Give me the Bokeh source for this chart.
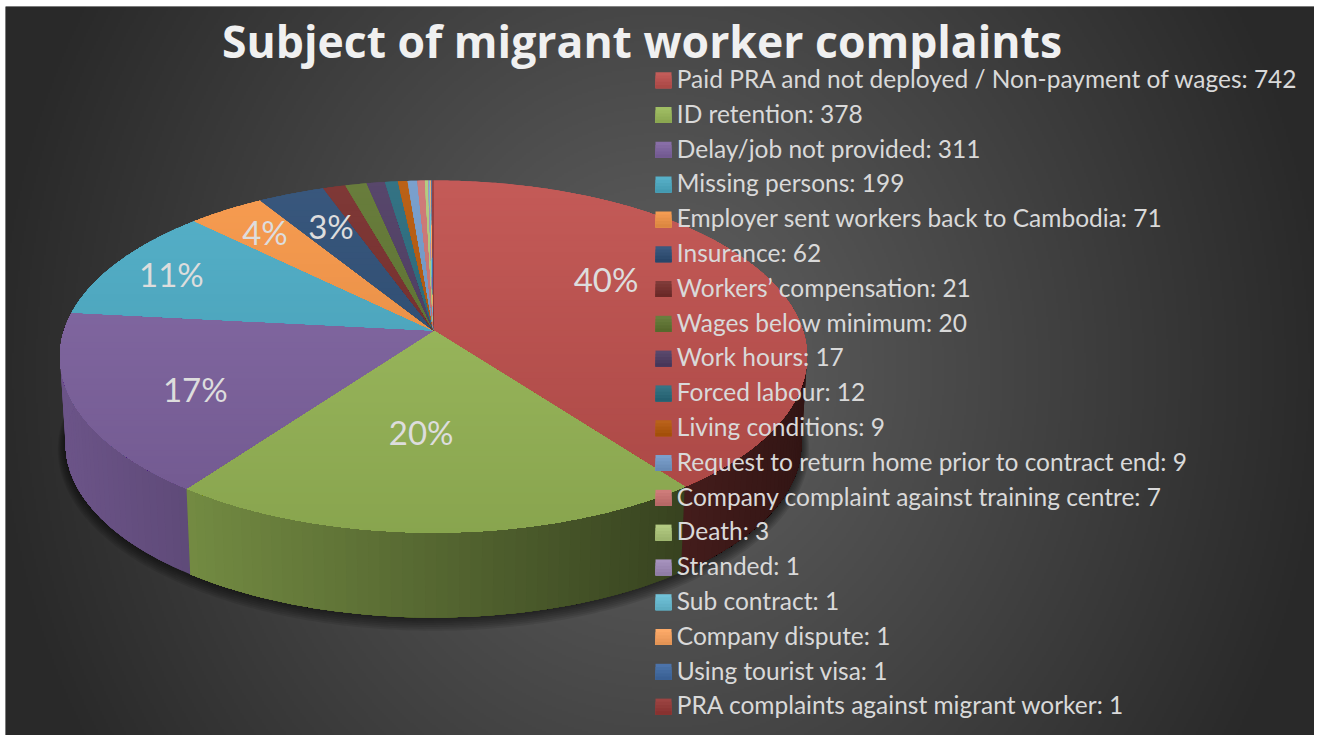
import math
import numpy as np
from bokeh.plotting import figure
from bokeh.core.properties import value
from bokeh.embed import file_html
from bokeh.resources import INLINE

# ---- data ----
categories = ["Paid PRA and not deployed / Non-payment of wages", "ID retention", "Delay/job not provided",
              "Missing persons", "Employer sent workers back to Cambodia", "Insurance", "Workers\u2019 compensation",
              "Wages below minimum", "Work hours", "Forced labour", "Living conditions",
              "Request to return home prior to contract end", "Company complaint against training centre",
              "Death", "Stranded", "Sub contract", "Company dispute", "Using tourist visa",
              "PRA complaints against migrant worker"]
counts = [742, 378, 311, 199, 71, 62, 21, 20, 17, 12, 9, 9, 7, 3, 1, 1, 1, 1, 1]
colors = ["#C0504D", "#9BBB59", "#8064A2", "#4BACC6", "#F79646", "#2C4D75", "#772C2A", "#5F7530", "#4D3B62",
          "#276A7C", "#B65708", "#729ACA", "#CD7371", "#AFC97A", "#A18BBA", "#67C0D8", "#FFA55E", "#3F6AA5", "#963634"]
title_text = "Subject of migrant worker complaints"
# pixel nudges of the six percent labels from their slice's mid-angle position
label_nudge = [(-32, -20), (-14, -12), (-28, 15), (-69, -14), (-39, -23), (-13, -18)]

# ---- geometry of the tilted pie ----
CX, CY, R, H, K = 433.0, 330.0, 369.4, 172.2, 0.1477
BOTTOM_CY, BOTTOM_S = 418.0, 0.985
TOP, BOTTOM = 180.0, 532.0
LEFT, RIGHT = 60.0, 807.0


def top_pt(theta, r=1.0):
    u, v = r * math.sin(theta), r * math.cos(theta)
    d = 1 + K * v
    return CX + R * u / d, CY - H * v / d


def bot_pt(theta, grow=0.0, dy=0.0):
    u, v = math.sin(theta), math.cos(theta)
    d = 1 + K * v
    return (CX + (BOTTOM_S * R + grow) * u / d, BOTTOM_CY + dy - (BOTTOM_S * H + grow) * v / d)


def rgb(c):
    return tuple(int(c[i:i + 2], 16) for i in (1, 3, 5))


def to_hex(c):
    return "#%02x%02x%02x" % tuple(max(0, min(255, int(round(x)))) for x in c)


def gradient(base, t, mix=0.06, dark=0.88):
    """vertical shine: t=0 lighter, t=1 darker"""
    b = rgb(base)
    a = [x + (255 - x) * mix for x in b]
    e = [x * dark for x in b]
    return to_hex([a[i] + (e[i] - a[i]) * t for i in range(3)])


def clip(poly, y0, y1):
    def cut(pts, keep, yc):
        out = []
        for i, p in enumerate(pts):
            q = pts[(i + 1) % len(pts)]
            kp, kq = keep(p[1]), keep(q[1])
            if kp:
                out.append(p)
            if kp != kq:
                f = (yc - p[1]) / (q[1] - p[1])
                out.append((p[0] + (q[0] - p[0]) * f, yc))
        return out
    pts = cut(poly, lambda y: y >= y0, y0)
    if pts:
        pts = cut(pts, lambda y: y <= y1, y1)
    return pts


total = sum(counts)
edges = np.cumsum([0] + counts) / total * 2 * math.pi

W, H_PAGE = 1309, 729
X0, Y0 = 5, 6
p = figure(width=W, height=H_PAGE, x_range=(X0, X0 + W), y_range=(Y0 + H_PAGE, Y0),
           output_backend="svg", toolbar_location=None, min_border=0, margin=(Y0, 0, 0, X0),
           background_fill_color="#333333", border_fill_color="white", outline_line_color=None)
p.axis.visible = False
p.grid.visible = False

# backdrop: radial gradient
ny, nx = H_PAGE // 2, W // 2
yy, xx = np.mgrid[0:ny, 0:nx]
px = X0 + (xx + .5) * 2
py = Y0 + (yy + .5) * 2
d = np.sqrt(((px - 660) / 660) ** 2 + (0.5 * (py - 370) / 370) ** 2)
g = np.clip(98 - 56 * d, 41, 98).astype(np.uint32)
img = (255 << 24) | (g << 16) | (g << 8) | g
p.image_rgba(image=[img.astype(np.uint32)], x=X0, y=Y0, dw=W, dh=H_PAGE)

# soft shadow under the pie
steps = np.linspace(0, 2 * math.pi, 361)
for i in range(7, 0, -1):
    pts = [bot_pt(t, grow=i * 1.1, dy=i * 0.6) for t in steps]
    p.patch([a for a, _ in pts], [b for _, b in pts], fill_color="black", fill_alpha=0.09, line_color=None)

# outer wall, shaded from left to right; each step paints to the slice's end
wx, wy, wc = [], [], []
for k in range(len(counts)):
    a0, a1 = edges[k], edges[k + 1]
    lo, hi = max(a0, math.radians(70)), min(a1, math.radians(290))
    if hi <= lo:
        continue
    n = max(1, int(math.degrees(hi - lo) / 1.5))
    base = rgb(colors[k])
    ts = [lo + (hi - lo) * j / n for j in range(n + 1)]
    for j in range(n):
        arc = ts[j:]
        q = [top_pt(t) for t in arc] + [bot_pt(t) for t in reversed(arc)]
        xm = (top_pt(ts[j])[0] + top_pt(ts[j + 1])[0]) / 2
        f = 0.84 - 0.58 * (xm - LEFT) / (RIGHT - LEFT)
        wx.append([a for a, _ in q])
        wy.append([b for _, b in q])
        wc.append(to_hex([c * f for c in base]))
p.patches(wx, wy, fill_color=wc, line_color=None)

# top face: each band paints from its top edge down to the pie's bottom
BAND = 6.0
tx, ty, tc = [], [], []
for k in range(len(counts)):
    a0, a1 = edges[k], edges[k + 1]
    n = max(2, int(math.degrees(a1 - a0) / 0.5))
    poly = [(CX, CY)] + [top_pt(a0 + (a1 - a0) * j / n) for j in range(n + 1)]
    y = TOP - BAND
    while y < BOTTOM + BAND:
        c = clip(poly, y, BOTTOM + 2)
        if len(c) >= 3:
            tx.append([a for a, _ in c])
            ty.append([b for _, b in c])
            tc.append(gradient(colors[k], min(1, max(0, (y + BAND / 2 - TOP) / (BOTTOM - TOP)))))
        y += BAND
p.patches(tx, ty, fill_color=tc, line_color=None)

# percent labels
lx, ly, lt = [], [], []
for k, (dx, dy) in enumerate(label_nudge):
    a, b = top_pt((edges[k] + edges[k + 1]) / 2, 0.6)
    lx.append(a + dx)
    ly.append(b + dy)
    lt.append(f"{round(counts[k] / total * 100)}%")
p.text(lx, ly, text=lt, text_font=value("Lato"), text_font_size="33px", text_color="#dddddd",
       text_align="center", text_baseline="middle")

# legend
LEG_Y, LEG_STEP = 79.7, 34.8
SWATCH_X0, SWATCH_X1, SW = 655, 671, 8
TEXT_SHIFT = -1.8
for k, c in enumerate(colors):
    yc = LEG_Y + k * LEG_STEP
    strips = 5
    h = 2 * SW / strips
    p.quad(left=[SWATCH_X0] * strips, right=[SWATCH_X1] * strips,
           top=[yc - SW + i * h for i in range(strips)], bottom=[yc + SW] * strips,
           fill_color=[gradient(c, (i + .5) / strips, 0.08, 0.88) for i in range(strips)], line_color=None)
p.text([676.3] * len(counts), [LEG_Y + TEXT_SHIFT + k * LEG_STEP for k in range(len(counts))],
       text=[f"{a}: {b}" for a, b in zip(categories, counts)],
       text_font=value("Lato"), text_font_size="24.5px", text_color="#d9d9d9",
       text_align="left", text_baseline="middle")

# title
p.text([641.5], [39.5], text=[title_text], text_font=value("Open Sans"), text_font_size="44.5px",
       text_font_style="bold", text_color="#f0f0f0", text_align="center", text_baseline="middle")

open("out.html", "w").write(file_html(p, INLINE))
